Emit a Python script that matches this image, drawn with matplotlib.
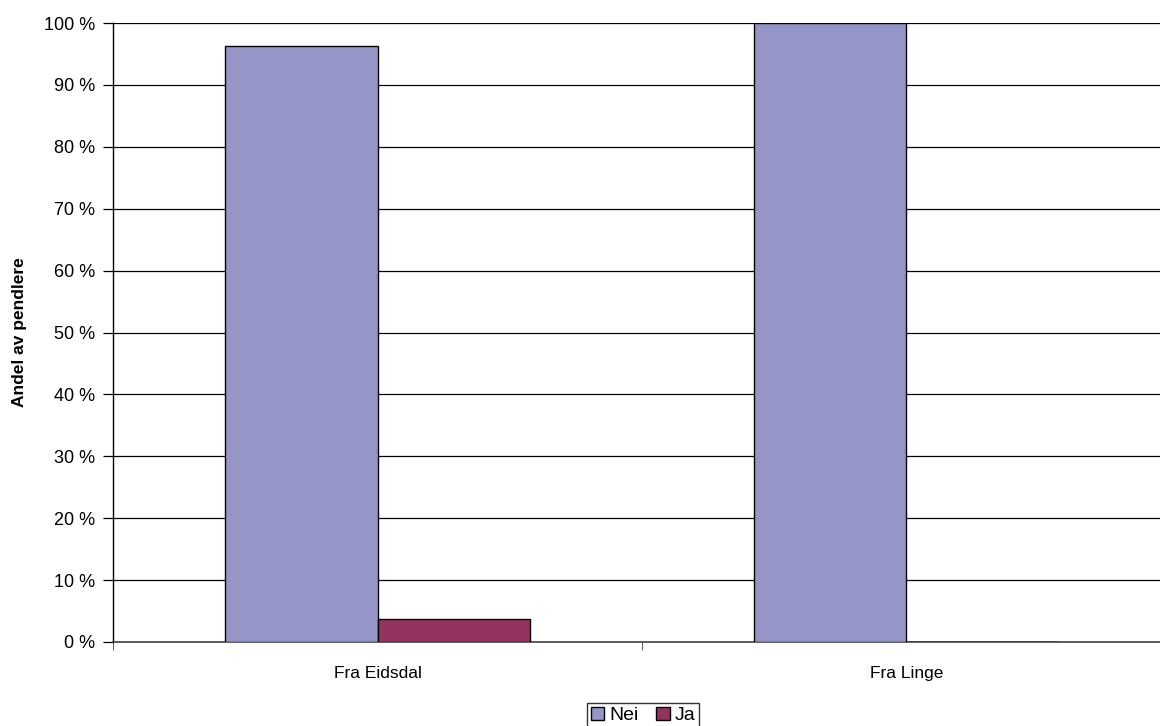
import matplotlib
matplotlib.use("Agg")
import matplotlib.pyplot as plt
from matplotlib.ticker import FixedLocator, FuncFormatter
import numpy as np

plt.rcParams['font.family'] = ['Liberation Sans', 'DejaVu Sans']

categories = ["Fra Eidsdal", "Fra Linge"]
series_names = ["Nei", "Ja"]
nei_values = [96.3, 100.0]
ja_values = [3.7, 0.0]
y_ticks = [0, 10, 20, 30, 40, 50, 60, 70, 80, 90, 100]

colors = ["#9595C8", "#953360"]

fig = plt.figure(figsize=(11.6, 7.26), dpi=100)
ax = fig.add_axes([113 / 1160, 1 - 642 / 726, (1171 - 113) / 1160, (642 - 23) / 726])

x = np.arange(len(categories))
w = 0.288
ax.bar(x - w / 2, nei_values, width=w, color=colors[0], edgecolor="black",
       linewidth=1.0, zorder=3, label=series_names[0])
ax.bar(x + w / 2, ja_values, width=w, color=colors[1], edgecolor="black",
       linewidth=1.0, zorder=3, label=series_names[1])

ax.set_xlim(-0.5, len(categories) - 0.5)
ax.set_ylim(0, 100)

ax.yaxis.set_major_locator(FixedLocator(y_ticks))
ax.yaxis.set_major_formatter(FuncFormatter(lambda v, p: f"{int(v)} %"))
ax.yaxis.grid(True, color="black", linewidth=0.9, zorder=0)
ax.set_axisbelow(True)

ax.set_xticks(x)
ax.set_xticklabels(categories)
ax.set_xticks(np.arange(-0.5, len(categories)), minor=True)
ax.tick_params(axis="x", which="major", length=0, pad=17, labelsize=12.5)
ax.tick_params(axis="x", which="minor", length=6, color="#444444")
ax.tick_params(axis="y", length=7, width=0.9, pad=6, labelsize=13)

for s in ["top", "right"]:
    ax.spines[s].set_visible(False)
ax.spines["left"].set_color("black")
ax.spines["left"].set_linewidth(1.0)
ax.spines["bottom"].set_color("#444444")
ax.spines["bottom"].set_linewidth(1.2)

ax.set_ylabel("Andel av pendlere", fontsize=12.5, fontweight="bold", labelpad=12)

handles, labels = ax.get_legend_handles_labels()
fig.legend(handles, labels, loc="lower center", bbox_to_anchor=(643 / 1160, -0.003),
           ncol=2, frameon=True, fancybox=False, edgecolor="black",
           fontsize=14, handlelength=0.7, handleheight=0.7, handletextpad=0.25,
           columnspacing=0.9, borderpad=0.2, borderaxespad=0.0)

fig.savefig("out.png", dpi=100)
